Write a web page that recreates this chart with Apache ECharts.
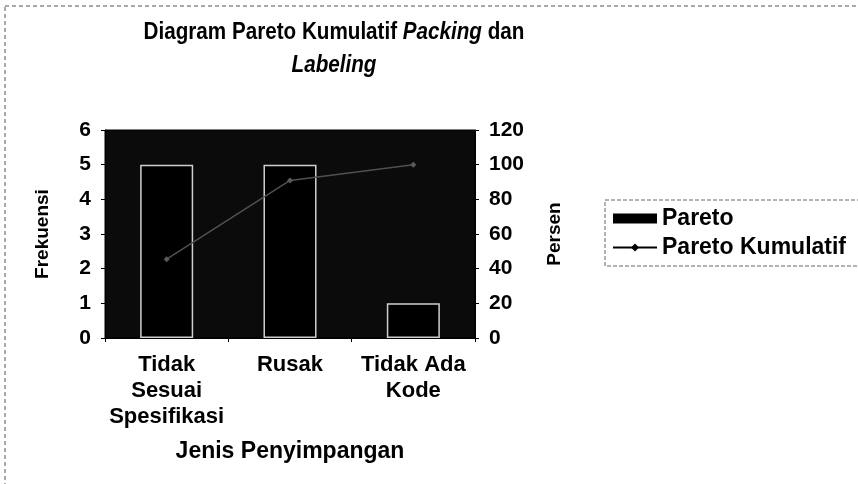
<!DOCTYPE html>
<html>
<head>
<meta charset="utf-8">
<script src="https://cdn.jsdelivr.net/npm/echarts@6/dist/echarts.min.js"></script>
<style>
html,body{margin:0;padding:0;background:#fff;}
#c{width:858px;height:484px;}
</style>
</head>
<body>
<div id="c"></div>
<script>
const categories = ['Tidak\nSesuai\nSpesifikasi', 'Rusak', 'Tidak Ada\nKode'];
const frekuensi = [5, 5, 1];
const persenKumulatif = [45.45, 90.91, 100];
const seriesNames = ['Pareto', 'Pareto Kumulatif'];
const axisNames = { x: 'Jenis Penyimpangan', yLeft: 'Frekuensi', yRight: 'Persen' };

const FONT = '"Liberation Sans", Arial, sans-serif';
const chart = echarts.init(document.getElementById('c'));
const lbl = { color: '#000', fontFamily: FONT, fontWeight: 'bold', fontSize: 21 };

chart.setOption({
  animation: false,
  backgroundColor: '#fff',
  graphic: [
    { type: 'rect', shape: { x: 5, y: 6, width: 900, height: 520 },
      style: { fill: 'none', stroke: '#555', lineWidth: 1, lineDash: [4, 3] }, silent: true },
    { type: 'text', x: 334, y: 16, scaleX: 0.86,
      style: {
        text: '{a|Diagram Pareto Kumulatif }{b|Packing}{a| dan}\n{b|Labeling}',
        align: 'center',
        rich: {
          a: { fontFamily: FONT, fontWeight: 'bold', fontSize: 24, lineHeight: 33, fill: '#000' },
          b: { fontFamily: FONT, fontWeight: 'bold', fontStyle: 'italic', fontSize: 24, lineHeight: 33, fill: '#000' }
        }
      } }
  ],
  grid: { left: 105, right: 383, top: 130, bottom: 146, show: true, backgroundColor: '#0b0b0b', borderColor: '#000', borderWidth: 1 },
  legend: {
    orient: 'vertical', left: 605, top: 200,
    padding: [7, 20, 7, 7], itemGap: 6, itemWidth: 44, itemHeight: 10,
    borderColor: '#666', borderWidth: 1, borderType: 'dashed',
    textStyle: { color: '#000', fontFamily: FONT, fontWeight: 'bold', fontSize: 23 },
    data: [
      { name: seriesNames[0], icon: 'rect', itemStyle: { color: '#000', borderColor: '#000', borderWidth: 0 } },
      { name: seriesNames[1], itemStyle: { color: '#000', borderColor: '#000' }, lineStyle: { color: '#000', width: 2 } }
    ]
  },
  xAxis: {
    type: 'category', data: categories,
    axisLine: { show: true, lineStyle: { color: '#000', width: 1 } },
    axisTick: { show: true, length: 4, lineStyle: { color: '#000' } },
    axisLabel: Object.assign({ margin: 14, lineHeight: 26, interval: 0 }, lbl, { fontSize: 22 }),
    name: axisNames.x, nameLocation: 'middle', nameGap: 102,
    nameTextStyle: Object.assign({}, lbl, { fontSize: 23 })
  },
  yAxis: [
    {
      type: 'value', min: 0, max: 6, interval: 1, position: 'left',
      axisLine: { show: true, lineStyle: { color: '#000' } },
      axisTick: { show: true, length: 4, lineStyle: { color: '#000' } },
      axisLabel: Object.assign({ margin: 14 }, lbl),
      splitLine: { show: false },
      name: axisNames.yLeft, nameLocation: 'middle', nameRotate: 90, nameGap: 53,
      nameTextStyle: Object.assign({}, lbl, { fontSize: 19 })
    },
    {
      type: 'value', min: 0, max: 120, interval: 20, position: 'right',
      axisLine: { show: true, lineStyle: { color: '#000' } },
      axisTick: { show: true, length: 4, lineStyle: { color: '#000' } },
      axisLabel: Object.assign({ margin: 14 }, lbl),
      splitLine: { show: false },
      name: axisNames.yRight, nameLocation: 'middle', nameRotate: 90, nameGap: 70,
      nameTextStyle: Object.assign({}, lbl, { fontSize: 19 })
    }
  ],
  series: [
    {
      name: seriesNames[0], type: 'bar', data: frekuensi, barWidth: '43%',
      yAxisIndex: 0,
      itemStyle: { color: '#000', borderColor: '#cfcfcf', borderWidth: 1.5 }
    },
    {
      name: seriesNames[1], type: 'line', data: persenKumulatif, yAxisIndex: 1,
      symbol: 'diamond', symbolSize: 6,
      lineStyle: { color: '#505050', width: 1.5 },
      itemStyle: { color: '#5a5a5a' }
    }
  ]
});
</script>
</body>
</html>
